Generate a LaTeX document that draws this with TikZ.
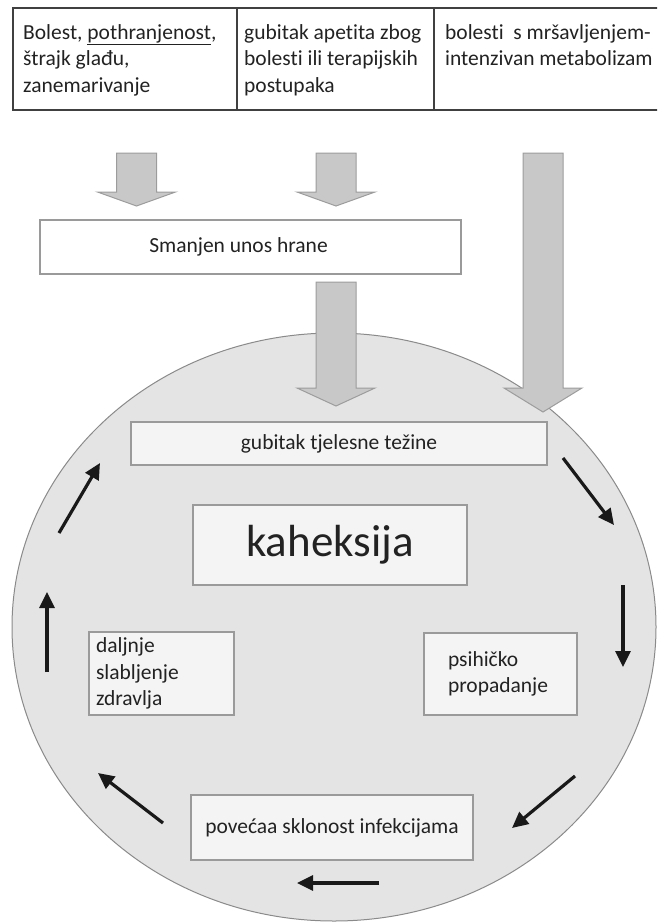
\documentclass[tikz,border=0pt]{standalone}
\usepackage{fontspec}
\setmainfont{Carlito}[Ligatures=NoCommon]
\usetikzlibrary{arrows.meta,shapes.geometric}
\definecolor{ringfill}{HTML}{E4E4E4}
\definecolor{ringline}{HTML}{8A8A8A}
\definecolor{boxfill}{HTML}{F4F4F4}
\definecolor{boxline}{HTML}{9A9A9A}
\definecolor{fatfill}{HTML}{C8C8C8}
\definecolor{fatline}{HTML}{9C9C9C}
\definecolor{txt}{HTML}{222222}
\tikzset{
  cell/.style={anchor=north west, align=left, inner sep=0pt, text=txt,
    font=\fontsize{21.5}{26.5}\selectfont},
  box/.style={draw=boxline, line width=1.3pt, fill=boxfill, text=txt,
    inner sep=0pt, font=\fontsize{21.5}{26.5}\selectfont},
  cyc/.style={line width=3.2pt, draw=black!90, -{Triangle[length=16pt,width=15pt]}},
  fat/.style={draw=fatline, line width=1pt, fill=fatfill, line join=miter}
}
% wide grey arrow: centre x, top, head start, tip
\newcommand{\fatarrow}[4]{\path[fat] (#1-20,#2) -- (#1+20,#2) -- (#1+20,#3) -- (#1+39,#3)
  -- (#1,#4) -- (#1-39,#3) -- (#1-20,#3) -- cycle;}
\begin{document}
\begin{tikzpicture}[x=1pt,y=-1pt]
\useasboundingbox (0,0) rectangle (657,923);
\clip (0,0) rectangle (657,923);
% table on top
\path[draw,line width=1.5pt,draw=black!75] (13,8) rectangle (700,110);
\path[draw,line width=1.5pt,draw=black!75] (237,8) -- (237,110);
\path[draw,line width=1.5pt,draw=black!75] (434,8) -- (434,110);
\node[cell] (uzrok1) at (23,24) {Bolest, \underline{pothranjenost},\\štrajk glađu,\\zanemarivanje};
\node[cell] (uzrok2) at (244,24) {gubitak apetita zbog\\bolesti ili terapijskih\\postupaka};
\node[cell] (uzrok3) at (445,24) {bolesti\ \ s mršavljenjem-\\intenzivan metabolizam};
% grey arrows
\fatarrow{136.5}{153}{192}{206}
\fatarrow{336}{153}{192}{206}
\node[box, fill=white, minimum width=421pt, minimum height=54pt] (unos) at (250.5,247) {\hspace*{-24pt}Smanjen unos hrane};
% the circle
\node[ellipse, draw=ringline, fill=ringfill, line width=1pt, inner sep=0pt,
  minimum width=644pt, minimum height=588pt] (krug) at (334,627) {};
\fatarrow{336}{282}{388}{406}
\fatarrow{543}{153}{388}{412}
% boxes in the circle
\node[box, minimum width=416pt, minimum height=43pt] (tezina) at (339,443.5) {gubitak tjelesne težine};
\node[box, minimum width=274pt, minimum height=80pt, font=\fontsize{45}{50}\selectfont] (kaheksija) at (330,545) {kaheksija};
\node[box, minimum width=145pt, minimum height=83pt, text width=131pt, align=left, inner xsep=7pt] (zdravlje) at (161.5,673.5) {daljnje\\slabljenje\\zdravlja};
\node[box, minimum width=153pt, minimum height=82pt, text width=105pt, align=left, inner xsep=24pt] (psiha) at (500.5,674) {psihičko\\propadanje};
\node[box, minimum width=282pt, minimum height=65pt] (infekcije) at (332,827.5) {povećaa sklonost infekcijama};
% black arrows of the cycle
\coordinate (k1) at (563,458);
\coordinate (k1e) at (614,525);
\coordinate (k2) at (623,585);
\coordinate (k2e) at (623,667);
\coordinate (k3) at (575,776);
\coordinate (k3e) at (512,828);
\coordinate (k4) at (379,883);
\coordinate (k4e) at (297,883);
\coordinate (k5) at (163,823);
\coordinate (k5e) at (98,773);
\coordinate (k6) at (47,672);
\coordinate (k6e) at (47,592);
\coordinate (k7) at (59,533);
\coordinate (k7e) at (100,463);
\path[cyc] (k1) -- (k1e);
\path[cyc] (k2) -- (k2e);
\path[cyc] (k3) -- (k3e);
\path[cyc] (k4) -- (k4e);
\path[cyc] (k5) -- (k5e);
\path[cyc] (k6) -- (k6e);
\path[cyc] (k7) -- (k7e);
\end{tikzpicture}
\end{document}
